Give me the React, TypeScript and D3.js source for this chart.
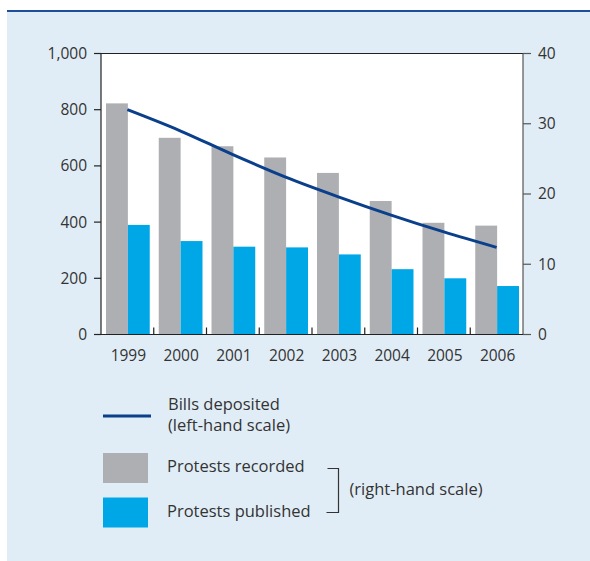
import React from "react";
import * as d3 from "d3";

const years = ["1999", "2000", "2001", "2002", "2003", "2004", "2005", "2006"];
const billsDeposited = [800, 725, 640, 560, 490, 425, 365, 310];
const protestsRecorded = [32.9, 28.0, 26.8, 25.2, 23.0, 19.0, 15.9, 15.5];
const protestsPublished = [15.6, 13.3, 12.5, 12.4, 11.4, 9.3, 8.0, 6.9];
const leftTicks = [0, 200, 400, 600, 800, 1000];
const rightTicks = [0, 10, 20, 30, 40];

const W = 590;
const H = 561;
const plot = { left: 101, right: 523, top: 53.5, bottom: 334.5 };
const FONT = "'Open Sans', 'Noto Sans', sans-serif";
const TEXT = "#333333";
const GRAY = "#aeafb3";
const BLUE = "#00a7e7";
const NAVY = "#0a3f8c";
const TICK_FS = 15.5;
const LEG_FS = 16.5;

export default function App() {
  const x = d3.scaleBand<string>().domain(years).range([plot.left, plot.right]).padding(0);
  const yL = d3.scaleLinear().domain([0, 1000]).range([plot.bottom, plot.top]);
  const yR = d3.scaleLinear().domain([0, 40]).range([plot.bottom, plot.top]);
  const bw = x.bandwidth();
  const inner = d3.scaleBand<string>().domain(["rec", "pub"]).range([5, bw - 4]).padding(0);
  const fmt = d3.format(",");
  const line = d3
    .line<number>()
    .x((_, i) => (x(years[i]) as number) + bw / 2)
    .y((d) => yL(d))
    .curve(d3.curveMonotoneX);

  return (
    <svg width={W} height={H} style={{ position: "absolute", left: 0, top: 0 }}>
      <rect x={7} y={10} width={W - 7} height={H - 10} fill="#e1edf6" />
      <line x1={7} x2={W} y1={11} y2={11} stroke="#1d4f99" strokeWidth={2} />
      <rect x={plot.left} y={plot.top} width={plot.right - plot.left} height={plot.bottom - plot.top} fill="#ffffff" />
      {years.map((yr, i) => {
        const x0 = x(yr) as number;
        return (
          <g key={yr}>
            <rect x={x0 + (inner("rec") as number)} y={yR(protestsRecorded[i])} width={inner.bandwidth()} height={plot.bottom - yR(protestsRecorded[i])} fill={GRAY} />
            <rect x={x0 + (inner("pub") as number)} y={yR(protestsPublished[i])} width={inner.bandwidth()} height={plot.bottom - yR(protestsPublished[i])} fill={BLUE} />
          </g>
        );
      })}
      <path d={line(billsDeposited) || ""} fill="none" stroke={NAVY} strokeWidth={3} />
      {/* frame */}
      <line x1={plot.left} x2={plot.right} y1={plot.top} y2={plot.top} stroke="#222" strokeWidth={1} />
      <line x1={plot.left} x2={plot.left} y1={plot.top} y2={plot.bottom} stroke="#222" strokeWidth={1.2} />
      <line x1={plot.right} x2={plot.right} y1={plot.top} y2={plot.bottom} stroke="#555" strokeWidth={1.2} />
      <line x1={plot.left} x2={plot.right} y1={plot.bottom} y2={plot.bottom} stroke="#222" strokeWidth={1.2} />
      {/* left axis */}
      {leftTicks.map((t) => (
        <g key={"l" + t}>
          <line x1={plot.left - 7} x2={plot.left} y1={yL(t)} y2={yL(t)} stroke="#222" strokeWidth={1.2} />
          <text x={plot.left - 14} y={yL(t)} dy="0.35em" textAnchor="end" fontFamily={FONT} fontSize={TICK_FS} fill={TEXT}>
            {fmt(t)}
          </text>
        </g>
      ))}
      {/* right axis */}
      {rightTicks.map((t) => (
        <g key={"r" + t}>
          <line x1={plot.right} x2={plot.right + 8} y1={yR(t)} y2={yR(t)} stroke="#555" strokeWidth={1.2} />
          <text x={plot.right + 15} y={yR(t)} dy="0.35em" textAnchor="start" fontFamily={FONT} fontSize={TICK_FS} fill={TEXT}>
            {t}
          </text>
        </g>
      ))}
      {/* x axis */}
      {years.map((yr, i) => {
        const x0 = x(yr) as number;
        return (
          <g key={"x" + yr}>
            {i > 0 && <line x1={x0} x2={x0} y1={plot.bottom - 7} y2={plot.bottom} stroke="#222" strokeWidth={1.2} />}
            <text x={x0 + bw / 2 + 1} y={plot.bottom + 21} dy="0.35em" textAnchor="middle" fontFamily={FONT} fontSize={TICK_FS} fill={TEXT}>
              {yr}
            </text>
          </g>
        );
      })}
      {/* legend */}
      <line x1={103} x2={151} y1={416} y2={416} stroke={NAVY} strokeWidth={3} />
      <text x={168} y={404} dy="0.35em" fontFamily={FONT} fontSize={LEG_FS} fill={TEXT}>Bills deposited</text>
      <text x={168} y={425} dy="0.35em" fontFamily={FONT} fontSize={LEG_FS} fill={TEXT}>(left-hand scale)</text>
      <rect x={103} y={453} width={45} height={30} fill={GRAY} />
      <rect x={103} y={497.5} width={45} height={30} fill={BLUE} />
      <text x={167} y={466} dy="0.35em" fontFamily={FONT} fontSize={LEG_FS} fill={TEXT}>Protests recorded</text>
      <text x={167} y={511.5} dy="0.35em" fontFamily={FONT} fontSize={LEG_FS} fill={TEXT}>Protests published</text>
      <path d="M327.5,468.5 H338.5 V512.5 H326.5" fill="none" stroke="#333" strokeWidth={1.2} />
      <text x={349.5} y={489.5} dy="0.35em" fontFamily={FONT} fontSize={LEG_FS} fill={TEXT}>(right-hand scale)</text>
    </svg>
  );
}
